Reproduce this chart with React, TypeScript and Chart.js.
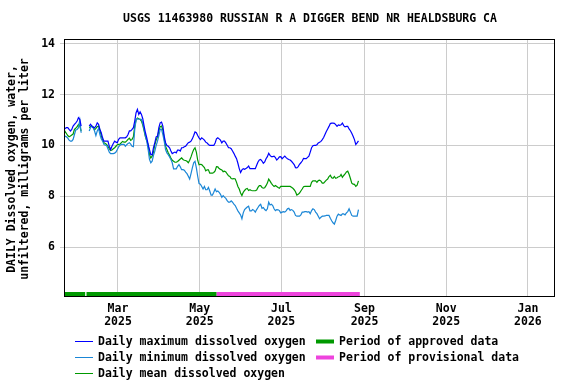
import React, { useEffect, useRef } from 'react';
import { Chart, registerables } from 'chart.js';

Chart.register(...registerables);

// ---------- data ----------
const TITLE = 'USGS 11463980 RUSSIAN R A DIGGER BEND NR HEALDSBURG CA';
const Y_TITLE = ['DAILY Dissolved oxygen, water,', 'unfiltered, milligrams per liter'];

const START_DATE = '2025-01-19T00:00:00Z'; // first daily value
const AXIS_START = '2025-01-19T16:48:00Z';
const AXIS_END = '2026-01-21T04:48:00Z';

const TICK_DATES = ['2025-03-01', '2025-05-01', '2025-07-01', '2025-09-01', '2025-11-01', '2026-01-01'];
const TICK_LABELS = [['Mar', '2025'], ['May', '2025'], ['Jul', '2025'], ['Sep', '2025'], ['Nov', '2025'], ['Jan', '2026']];
const Y_TICKS = [6, 8, 10, 12, 14];
const Y_MIN = 4.083;
const Y_MAX = 14.185;

const N = null;
const maxDO = [
  10.63, 10.67, 10.70, 10.70, 10.63, 10.57, 10.63, 10.76, 10.83, 10.89, 10.96, 11.09, 11.03, 10.76,
  N, N, N, N, N,
  10.76, 10.83, 10.76, 10.70, 10.70, 10.76, 10.89, 10.83, 10.63, 10.50, 10.30, 10.17, 10.17, 10.17, 10.17,
  9.97, 9.84, 9.97, 10.08, 10.17, 10.13, 10.11, 10.24, 10.30, 10.30, 10.30, 10.30, 10.30, 10.34, 10.43, 10.57, 10.57,
  10.63, 10.70, 10.96, 11.29, 11.42, 11.22, 11.32, 11.22, 11.05, 10.76, 10.50, 10.30, 10.04, 9.84, 9.64, 9.64,
  9.91, 10.11, 10.34, 10.37, 10.70, 10.89, 10.92, 10.76, 10.37, 10.11, 10.00, 9.97, 9.91, 9.78, 9.68, 9.71,
  9.74, 9.71, 9.82, 9.82, 9.78, 9.91, 9.91, 9.95, 9.97, 10.04, 10.11, 10.13, 10.17, 10.26, 10.39, 10.53, 10.50, 10.39, 10.30,
  10.23, 10.30, 10.26, 10.21, 10.13, 10.10, 10.04, 10.00, 10.00, 10.00, 10.00, 10.10, 10.26, 10.30, 10.26, 10.21, 10.10, 10.17, 10.17, 10.10,
  10.01, 9.91, 9.91, 9.87, 9.78, 9.69, 9.58, 9.48, 9.30, 9.09, 8.94, 9.04, 9.09, 9.06, 9.09, 9.13, 9.19, 9.09, 9.09, 9.09,
  9.09, 9.09, 9.22, 9.35, 9.43, 9.45, 9.39, 9.30, 9.35, 9.48, 9.56, 9.69, 9.61, 9.56, 9.56, 9.58, 9.52, 9.43, 9.48, 9.55,
  9.56, 9.48, 9.53, 9.58, 9.52, 9.48, 9.45, 9.43, 9.38, 9.32, 9.25, 9.13, 9.12, 9.17, 9.26, 9.32, 9.39, 9.49, 9.48, 9.48,
  9.53, 9.58, 9.74, 9.91, 9.99, 10.00, 10.00, 10.03, 10.10, 10.13, 10.16, 10.23, 10.31, 10.43, 10.55, 10.65, 10.75, 10.86, 10.88, 10.88,
  10.87, 10.82, 10.75, 10.81, 10.79, 10.81, 10.88, 10.78, 10.73, 10.75, 10.75, 10.65, 10.58, 10.48, 10.36, 10.23, 10.04, 10.10, 10.18,
];
const minDO = [
  10.24, 10.37, 10.34, 10.29, 10.21, 10.17, 10.17, 10.24, 10.43, 10.61, 10.63, 10.70, 11.00, 10.50,
  N, N, N, N, N,
  10.57, 10.70, 10.76, 10.70, 10.57, 10.39, 10.57, 10.67, 10.43, 10.26, 10.17, 10.04, 10.01, 10.00, 9.87,
  9.74, 9.68, 9.68, 9.68, 9.70, 9.74, 9.84, 9.95, 10.01, 10.04, 10.04, 10.04, 9.97, 10.03, 10.08, 10.11, 10.05,
  9.97, 9.95, 10.63, 11.00, 11.05, 11.03, 11.03, 11.03, 10.87, 10.63, 10.37, 10.17, 9.84, 9.45, 9.32, 9.38,
  9.61, 9.78, 10.00, 10.17, 10.39, 10.63, 10.63, 10.43, 10.17, 9.84, 9.71, 9.64, 9.55, 9.45, 9.32, 9.08,
  9.08, 9.08, 9.18, 9.25, 9.16, 9.05, 9.05, 9.03, 8.95, 8.89, 8.79, 8.68, 8.89, 9.12, 9.32, 9.38, 9.12, 8.79, 8.50,
  8.48, 8.39, 8.29, 8.39, 8.26, 8.26, 8.35, 8.21, 8.05, 8.05, 8.16, 8.29, 8.18, 8.21, 8.16, 8.08, 7.96, 8.03, 7.97, 7.92,
  7.83, 7.77, 7.77, 7.82, 7.77, 7.69, 7.64, 7.53, 7.43, 7.35, 7.27, 7.12, 7.35, 7.48, 7.53, 7.58, 7.61, 7.43, 7.43, 7.48,
  7.45, 7.38, 7.48, 7.56, 7.64, 7.69, 7.53, 7.56, 7.48, 7.44, 7.51, 7.77, 7.66, 7.69, 7.64, 7.51, 7.44, 7.48, 7.47, 7.44,
  7.35, 7.38, 7.40, 7.38, 7.43, 7.51, 7.53, 7.45, 7.48, 7.45, 7.38, 7.25, 7.22, 7.22, 7.22, 7.27, 7.38, 7.38, 7.40, 7.40,
  7.38, 7.40, 7.32, 7.44, 7.51, 7.48, 7.38, 7.32, 7.22, 7.12, 7.18, 7.22, 7.22, 7.23, 7.25, 7.25, 7.25, 7.14, 7.04, 6.96,
  6.91, 7.05, 7.22, 7.30, 7.27, 7.25, 7.31, 7.31, 7.27, 7.35, 7.40, 7.51, 7.38, 7.25, 7.22, 7.22, 7.22, 7.22, 7.48,
];
const meanDO = [
  10.39, 10.55, 10.47, 10.39, 10.34, 10.37, 10.41, 10.45, 10.63, 10.68, 10.74, 10.82, 10.76, 10.57,
  N, N, N, N, N,
  10.70, 10.74, 10.76, 10.74, 10.61, 10.67, 10.74, 10.76, 10.61, 10.39, 10.20, 10.11, 10.08, 10.04, 9.97,
  9.87, 9.80, 9.82, 9.87, 9.91, 9.97, 10.03, 10.04, 10.05, 10.11, 10.16, 10.13, 10.13, 10.18, 10.24, 10.29, 10.20,
  10.24, 10.34, 10.76, 11.00, 11.08, 11.05, 11.03, 10.96, 10.80, 10.57, 10.34, 10.17, 10.04, 9.64, 9.51, 9.58,
  9.74, 10.04, 10.21, 10.34, 10.57, 10.74, 10.76, 10.61, 10.26, 9.97, 9.84, 9.71, 9.61, 9.51, 9.42, 9.38,
  9.34, 9.34, 9.37, 9.42, 9.47, 9.51, 9.45, 9.42, 9.41, 9.38, 9.32, 9.42, 9.55, 9.71, 9.84, 9.91, 9.74, 9.42, 9.24,
  9.26, 9.25, 9.19, 9.13, 9.00, 9.04, 9.04, 8.91, 8.91, 8.91, 8.94, 9.00, 9.17, 9.16, 9.09, 9.06, 9.04, 8.97, 8.99, 8.96,
  8.88, 8.81, 8.78, 8.70, 8.69, 8.70, 8.68, 8.55, 8.39, 8.29, 8.13, 8.03, 8.16, 8.23, 8.29, 8.31, 8.23, 8.26, 8.23, 8.22,
  8.22, 8.22, 8.25, 8.35, 8.42, 8.42, 8.35, 8.32, 8.34, 8.42, 8.52, 8.68, 8.60, 8.51, 8.44, 8.39, 8.43, 8.39, 8.35, 8.32,
  8.39, 8.39, 8.39, 8.39, 8.39, 8.39, 8.39, 8.39, 8.36, 8.32, 8.26, 8.18, 8.05, 8.08, 8.13, 8.21, 8.29, 8.38, 8.39, 8.39,
  8.39, 8.39, 8.39, 8.55, 8.61, 8.61, 8.61, 8.55, 8.62, 8.64, 8.60, 8.52, 8.52, 8.58, 8.64, 8.68, 8.78, 8.83, 8.73, 8.71,
  8.78, 8.71, 8.73, 8.77, 8.78, 8.86, 8.75, 8.82, 8.88, 8.96, 8.99, 8.87, 8.70, 8.52, 8.48, 8.47, 8.39, 8.44, 8.61,
];

const APPROVED_PERIODS = [
  ['2025-01-19T12:00:00Z', '2025-02-04T12:00:00Z'],
  ['2025-02-05T12:00:00Z', '2025-05-13T12:00:00Z'],
];
const PROVISIONAL_PERIODS = [['2025-05-13T12:00:00Z', '2025-08-28T12:00:00Z']];
const PERIOD_BAR_Y = 4.16;

const SERIES_NAMES = ['Daily maximum dissolved oxygen', 'Daily minimum dissolved oxygen', 'Daily mean dissolved oxygen'];
const PERIOD_NAMES = ['Period of approved data', 'Period of provisional data'];

const C_MAX = '#0000ff';
const C_MIN = '#1a86d6';
const C_MEAN = '#009900';
const C_APPROVED = '#009900';
const C_PROV = '#ee44dd';

// ---------- helpers ----------
const DAY = 86400000;
const BASE = Date.parse(START_DATE);
const dayOf = (s: string) => (Date.parse(s.length === 10 ? s + 'T00:00:00Z' : s) - BASE) / DAY;
const TICK_DAYS = TICK_DATES.map(dayOf);
const FONT_FAMILY = '"DejaVu Sans Mono", "Liberation Mono", monospace';

const seriesPoints = (vals: (number | null)[]) => vals.map((v, i) => ({ x: i + 0.5, y: v }));
const periodPoints = (periods: string[][]) => {
  const pts: { x: number; y: number | null }[] = [];
  periods.forEach((p, i) => {
    const a = dayOf(p[0]);
    const b = dayOf(p[1]);
    if (i > 0) pts.push({ x: (pts[pts.length - 1].x + a) / 2, y: null });
    pts.push({ x: a, y: PERIOD_BAR_Y });
    pts.push({ x: b, y: PERIOD_BAR_Y });
  });
  return pts;
};

const decorPlugin = {
  id: 'decor',
  afterDraw(chart: any) {
    const ctx = chart.ctx;
    const a = chart.chartArea;
    ctx.save();
    // frame
    ctx.strokeStyle = '#000';
    ctx.lineWidth = 1;
    const l = Math.round(a.left) + 0.5;
    const t = Math.round(a.top) + 0.5;
    const r = Math.round(a.right) - 0.5;
    const b = Math.round(a.bottom) + 0.5;
    ctx.strokeRect(l, t, r - l, b - t);

    ctx.fillStyle = '#000';
    ctx.font = `bold 11.5px ${FONT_FAMILY}`;
    ctx.textBaseline = 'middle';
    // title
    ctx.textAlign = 'center';
    ctx.fillText(TITLE, 310, 19);
    // y title
    const yc = 169;
    ctx.save();
    ctx.translate(12.5, yc);
    ctx.rotate(-Math.PI / 2);
    ctx.fillText(Y_TITLE[0], 0, 0);
    ctx.restore();
    ctx.save();
    ctx.translate(25.5, yc);
    ctx.rotate(-Math.PI / 2);
    ctx.fillText(Y_TITLE[1], 0, 0);
    ctx.restore();

    // legend
    ctx.textAlign = 'left';
    const rows = [341, 357, 373];
    const colors = [C_MAX, C_MIN, C_MEAN];
    SERIES_NAMES.forEach((name, i) => {
      ctx.fillStyle = colors[i];
      ctx.fillRect(75, rows[i], 18, 1);
      ctx.fillStyle = '#000';
      ctx.fillText(name, 98, rows[i] + 1);
    });
    const pcolors = [C_APPROVED, C_PROV];
    PERIOD_NAMES.forEach((name, i) => {
      ctx.fillStyle = pcolors[i];
      ctx.fillRect(316, rows[i] - 1.5, 18, 4);
      ctx.fillStyle = '#000';
      ctx.fillText(name, 339, rows[i] + 1);
    });
    ctx.restore();
  },
};

export default function App() {
  const ref = useRef<HTMLCanvasElement | null>(null);
  useEffect(() => {
    if (!ref.current) return;
    const tickFont = { family: FONT_FAMILY, size: 11.5, weight: 'bold' as const, lineHeight: '13px' };
    const chart = new Chart(ref.current, {
      type: 'line',
      data: {
        datasets: [
          { label: SERIES_NAMES[0], data: seriesPoints(maxDO), borderColor: C_MAX, borderWidth: 1.2, pointRadius: 0, spanGaps: false },
          { label: SERIES_NAMES[1], data: seriesPoints(minDO), borderColor: C_MIN, borderWidth: 1.2, pointRadius: 0, spanGaps: false },
          { label: SERIES_NAMES[2], data: seriesPoints(meanDO), borderColor: C_MEAN, borderWidth: 1.2, pointRadius: 0, spanGaps: false },
          { label: PERIOD_NAMES[0], data: periodPoints(APPROVED_PERIODS), borderColor: C_APPROVED, borderWidth: 4, pointRadius: 0, spanGaps: false, borderCapStyle: 'butt', clip: 0 },
          { label: PERIOD_NAMES[1], data: periodPoints(PROVISIONAL_PERIODS), borderColor: C_PROV, borderWidth: 4, pointRadius: 0, spanGaps: false, borderCapStyle: 'butt', clip: 0 },
        ] as any,
      },
      options: {
        responsive: false,
        animation: false,
        devicePixelRatio: 1,
        parsing: false as any,
        normalized: true,
        layout: { padding: { top: 39, right: 21, left: 0, bottom: 0 } },
        plugins: { legend: { display: false }, title: { display: false }, tooltip: { enabled: false } },
        elements: { line: { tension: 0 }, point: { radius: 0 } },
        scales: {
          x: {
            type: 'linear',
            min: dayOf(AXIS_START),
            max: dayOf(AXIS_END),
            afterFit: (s: any) => { s.height = 88; },
            afterBuildTicks: (s: any) => { s.ticks = TICK_DAYS.map((v) => ({ value: v })); },
            grid: { color: '#cccccc', lineWidth: 1, drawTicks: false },
            border: { display: false },
            ticks: {
              autoSkip: false, maxRotation: 0, minRotation: 0, padding: 7, color: '#000', font: tickFont,
              callback: (v: any) => { const i = TICK_DAYS.indexOf(Number(v)); return i >= 0 ? TICK_LABELS[i] : ''; },
            },
          },
          y: {
            type: 'linear',
            min: Y_MIN,
            max: Y_MAX,
            afterFit: (s: any) => { s.width = 64; },
            afterBuildTicks: (s: any) => { s.ticks = Y_TICKS.map((v) => ({ value: v })); },
            grid: { color: '#cccccc', lineWidth: 1, tickLength: 4 },
            border: { display: false },
            ticks: { padding: 5, color: '#000', font: tickFont, callback: (v: any) => String(v) },
          },
        } as any,
      },
      plugins: [decorPlugin],
    });
    return () => chart.destroy();
  }, []);
  return (
    <div style={{ position: 'absolute', left: 0, top: 0, width: 576, height: 384, background: '#fff' }}>
      <canvas ref={ref} width={576} height={384} style={{ display: 'block', width: 576, height: 384 }} />
    </div>
  );
}
